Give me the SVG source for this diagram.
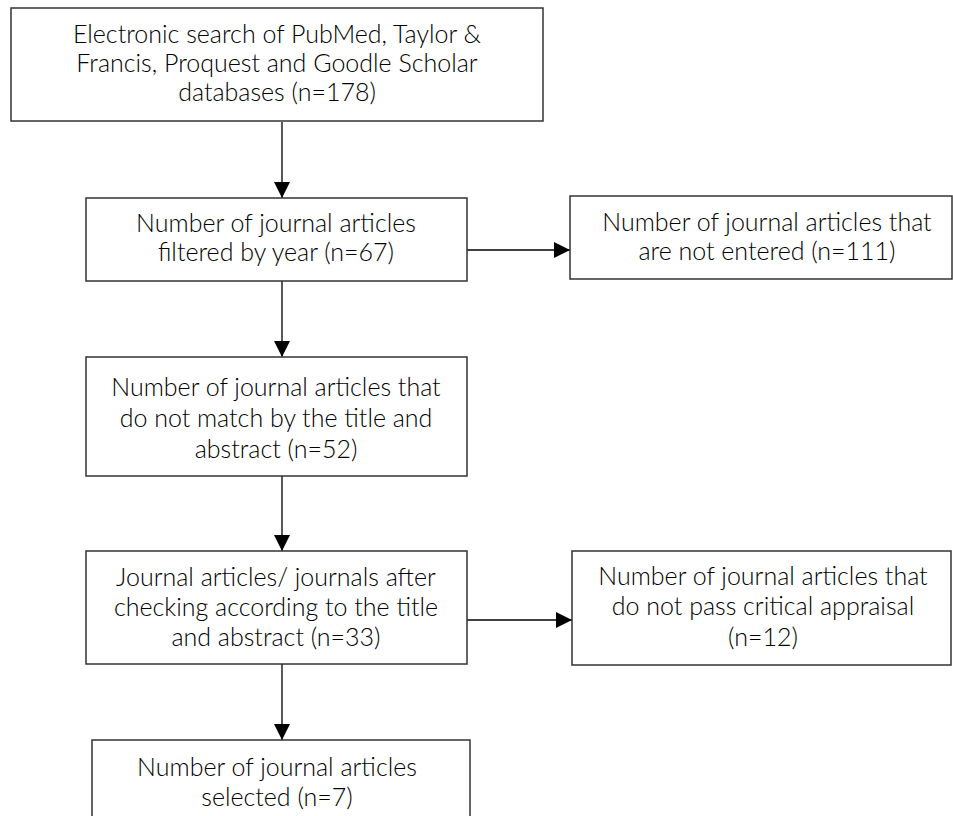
<svg xmlns="http://www.w3.org/2000/svg" width="953" height="816" viewBox="0 0 953 816">
<style>
.box{fill:#fff;stroke:#333;stroke-width:1.5}
.t{font-family:"Lato","Open Sans","Liberation Sans",sans-serif;font-size:25px;font-weight:300;fill:#000;text-anchor:middle}
.c{stroke:#000;stroke-width:1.3;fill:none}
</style>
<defs>
<marker id="ah" viewBox="0 0 16 16" refX="16" refY="8" markerWidth="16" markerHeight="16" markerUnits="userSpaceOnUse" orient="auto">
<path d="M0,0 L16,8 L0,16 Z" fill="#000"/>
</marker>
</defs>
<rect width="953" height="816" fill="#fff"/>
<g id="connectors">
<line class="c" x1="282" y1="122" x2="282" y2="198" marker-end="url(#ah)"/>
<line class="c" x1="282" y1="281" x2="282" y2="357" marker-end="url(#ah)"/>
<line class="c" x1="282" y1="476" x2="282" y2="551" marker-end="url(#ah)"/>
<line class="c" x1="282" y1="664" x2="282" y2="740" marker-end="url(#ah)"/>
<line class="c" x1="467" y1="250" x2="570" y2="250" marker-end="url(#ah)"/>
<line class="c" x1="467" y1="620" x2="572" y2="620" marker-end="url(#ah)"/>
</g>
<g id="n1">
<rect class="box" x="11" y="8" width="532" height="113"/>
<text class="t" x="277" y="43">Electronic search of PubMed, Taylor &amp;</text>
<text class="t" x="277" y="72">Francis, Proquest and Goodle Scholar</text>
<text class="t" x="277" y="101">databases (n=178)</text>
</g>
<g id="n2">
<rect class="box" x="86" y="198" width="381" height="83"/>
<text class="t" x="276" y="232">Number of journal articles</text>
<text class="t" x="276" y="261">filtered by year (n=67)</text>
</g>
<g id="n3">
<rect class="box" x="570" y="196" width="382" height="83"/>
<text class="t" x="767" y="231">Number of journal articles that</text>
<text class="t" x="767" y="260">are not entered (n=111)</text>
</g>
<g id="n4">
<rect class="box" x="86" y="357" width="381" height="119"/>
<text class="t" x="276" y="396">Number of journal articles that</text>
<text class="t" x="276" y="427">do not match by the title and</text>
<text class="t" x="276" y="458">abstract (n=52)</text>
</g>
<g id="n5">
<rect class="box" x="86" y="551" width="381" height="113"/>
<text class="t" x="276" y="586">Journal articles/ journals after</text>
<text class="t" x="276" y="616">checking according to the title</text>
<text class="t" x="276" y="646">and abstract (n=33)</text>
</g>
<g id="n6">
<rect class="box" x="572" y="551" width="379" height="114"/>
<text class="t" x="763" y="585">Number of journal articles that</text>
<text class="t" x="763" y="615">do not pass critical appraisal</text>
<text class="t" x="763" y="646">(n=12)</text>
</g>
<g id="n7">
<rect class="box" x="92" y="740" width="378" height="90"/>
<text class="t" x="277" y="776">Number of journal articles</text>
<text class="t" x="277" y="806">selected (n=7)</text>
</g>
</svg>
